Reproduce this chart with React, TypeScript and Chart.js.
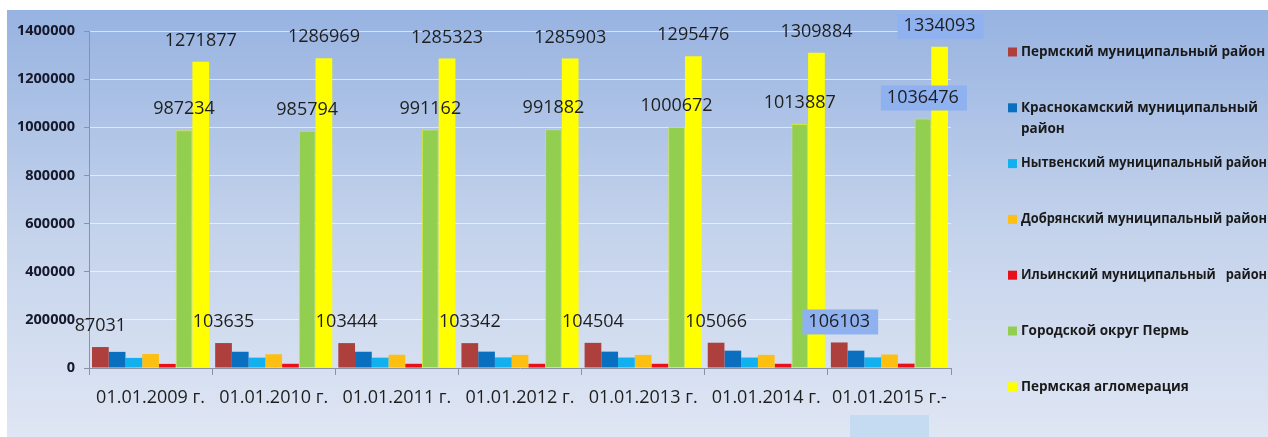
import React, { useEffect, useRef } from "react";
import { Chart, registerables } from "chart.js";

Chart.register(...registerables);

// ---- data ----
const categories = [
  "01.01.2009 г.",
  "01.01.2010 г.",
  "01.01.2011 г.",
  "01.01.2012 г.",
  "01.01.2013 г.",
  "01.01.2014 г.",
  "01.01.2015 г.-",
];

const seriesNames = [
  "Пермский муниципальный район",
  "Краснокамский муниципальный район",
  "Нытвенский муниципальный район",
  "Добрянский муниципальный район",
  "Ильинский муниципальный   район",
  "Городской округ Пермь",
  "Пермская агломерация",
];

const permskyRayon = [87031, 103635, 103444, 103342, 104504, 105066, 106103];
const krasnokamskyRayon = [67000, 67500, 67500, 68000, 68000, 72000, 72000];
const nytvenskyRayon = [42000, 43000, 43000, 44000, 43500, 43500, 44000];
const dobryanskyRayon = [58000, 57000, 55000, 54500, 54500, 54500, 56000];
const ilyinskyRayon = [17000, 17500, 17500, 17500, 17500, 17500, 18000];
const permCity = [987234, 985794, 991162, 991882, 1000672, 1013887, 1036476];
const permAgglomeration = [1271877, 1286969, 1285323, 1285903, 1295476, 1309884, 1334093];

const seriesValues = [
  permskyRayon,
  krasnokamskyRayon,
  nytvenskyRayon,
  dobryanskyRayon,
  ilyinskyRayon,
  permCity,
  permAgglomeration,
];

const yMax = 1400000;
const yStep = 200000;

// series whose values are written above bars, and the highlighted category
const labelledSeries = [0, 5, 6];
const highlightedCategory = 6;

// ---- styles ----
const seriesColors = ["#ad403d", "#0b6fc0", "#12b0ee", "#fdbf12", "#e81019", "#92cf50", "#ffff00"];
const seriesBorders = ["#ad403d", "#0b6fc0", "#12b0ee", "#fdbf12", "#e81019", "#cfe63f", "#ffff00"];
// legend entries that wrap their last word onto a second line
const legendWrapped = [false, true, false, false, false, false, false];

const backgroundPlugin = {
  id: "panelBackground",
  beforeDraw(chart: any) {
    const { ctx, width, height } = chart;
    ctx.save();
    ctx.fillStyle = "#ffffff";
    ctx.fillRect(0, 0, width, height);
    const g = ctx.createLinearGradient(0, 10, 0, height);
    g.addColorStop(0, "#97b3e1");
    g.addColorStop(0.5, "#c3d2eb");
    g.addColorStop(1, "#dfe6f4");
    ctx.fillStyle = g;
    ctx.fillRect(7, 10, width - 7, height - 10);
    // light decorative box under the last category label
    ctx.fillStyle = "#c4dbf1";
    ctx.fillRect(850, 415, 79, height - 415);
    ctx.restore();
  },
};

const valueLabelPlugin = {
  id: "valueLabels",
  afterDatasetsDraw(chart: any) {
    const { ctx } = chart;
    ctx.save();
    ctx.font = "18px 'Open Sans'";
    ctx.textAlign = "center";
    ctx.textBaseline = "middle";
    labelledSeries.forEach((di) => {
      const meta = chart.getDatasetMeta(di);
      meta.data.forEach((bar: any, i: number) => {
        const v = chart.data.datasets[di].data[i];
        const text = String(v);
        const y = bar.y - 21;
        if (i === highlightedCategory) {
          const w = ctx.measureText(text).width;
          ctx.fillStyle = "#8fb1ef";
          ctx.fillRect(bar.x - w / 2 - 6, y - 12, w + 14, 25);
        }
        ctx.fillStyle = "#1e1e1e";
        ctx.fillText(text, bar.x, y);
      });
    });
    ctx.restore();
  },
};

const legendPlugin = {
  id: "sideLegend",
  afterDraw(chart: any) {
    const { ctx } = chart;
    ctx.save();
    ctx.font = "bold 13.5px 'Open Sans'";
    ctx.textAlign = "left";
    ctx.textBaseline = "middle";
    const x0 = 1008;
    const textX = 1021;
    const maxW = 246;
    chart.data.datasets.forEach((ds: any, i: number) => {
      const y = 52 + i * 55.8;
      ctx.fillStyle = ds.backgroundColor;
      ctx.fillRect(x0, y - 4.5, 9, 9);
      ctx.fillStyle = "#1a1a1a";
      const label: string = ds.label;
      if (legendWrapped[i]) {
        const cut = label.lastIndexOf(" ");
        ctx.fillText(label.slice(0, cut), textX, y, maxW);
        ctx.fillText(label.slice(cut + 1), textX, y + 21, maxW);
      } else {
        ctx.fillText(label, textX, y, maxW);
      }
    });
    ctx.restore();
  },
};

export default function App() {
  const canvasRef = useRef<HTMLCanvasElement | null>(null);

  useEffect(() => {
    if (!canvasRef.current) return;
    const chart = new Chart(canvasRef.current, {
      type: "bar",
      data: {
        labels: categories,
        datasets: seriesValues.map((vals, i) => ({
          label: seriesNames[i],
          data: vals,
          backgroundColor: seriesColors[i],
          borderColor: seriesBorders[i],
          borderWidth: i === 5 ? 1 : 0,
          categoryPercentage: 0.951,
          barPercentage: 1.0,
        })),
      },
      options: {
        responsive: false,
        animation: false,
        devicePixelRatio: 1,
        layout: { padding: { left: 0, top: 31, right: 317, bottom: 0 } },
        plugins: {
          legend: { display: false },
          tooltip: { enabled: false },
          title: { display: false },
        },
        scales: {
          x: {
            grid: {
              display: true,
              drawOnChartArea: false,
              drawTicks: true,
              tickLength: 7,
              tickColor: "#8a93a3",
              offset: true,
            },
            border: { display: true, color: "#8a93a3", width: 1 },
            ticks: {
              color: "#1e1e1e",
              font: { family: "'Open Sans'", size: 18 },
              padding: 12,
              maxRotation: 0,
              autoSkip: false,
            },
            afterFit(scale: any) {
              scale.height = 69;
            },
          },
          y: {
            min: 0,
            max: yMax,
            ticks: {
              stepSize: yStep,
              color: "#15182a",
              font: { family: "'Open Sans'", size: 14.5, weight: "bold" },
              padding: 9,
              callback: (v: any) => String(v),
            },
            grid: {
              color: "rgba(255,255,255,0.6)",
              lineWidth: 1,
              tickLength: 5,
              tickColor: "#8a93a3",
              drawTicks: true,
            },
            border: { display: true, color: "#8a93a3", width: 1 },
            afterFit(scale: any) {
              scale.width = 89;
            },
          },
        },
      },
      plugins: [backgroundPlugin, valueLabelPlugin, legendPlugin],
    } as any);
    return () => chart.destroy();
  }, []);

  return (
    <div style={{ position: "absolute", left: 0, top: 0, width: 1268, height: 437 }}>
      <canvas ref={canvasRef} width={1268} height={437} style={{ width: 1268, height: 437, display: "block" }} />
    </div>
  );
}
